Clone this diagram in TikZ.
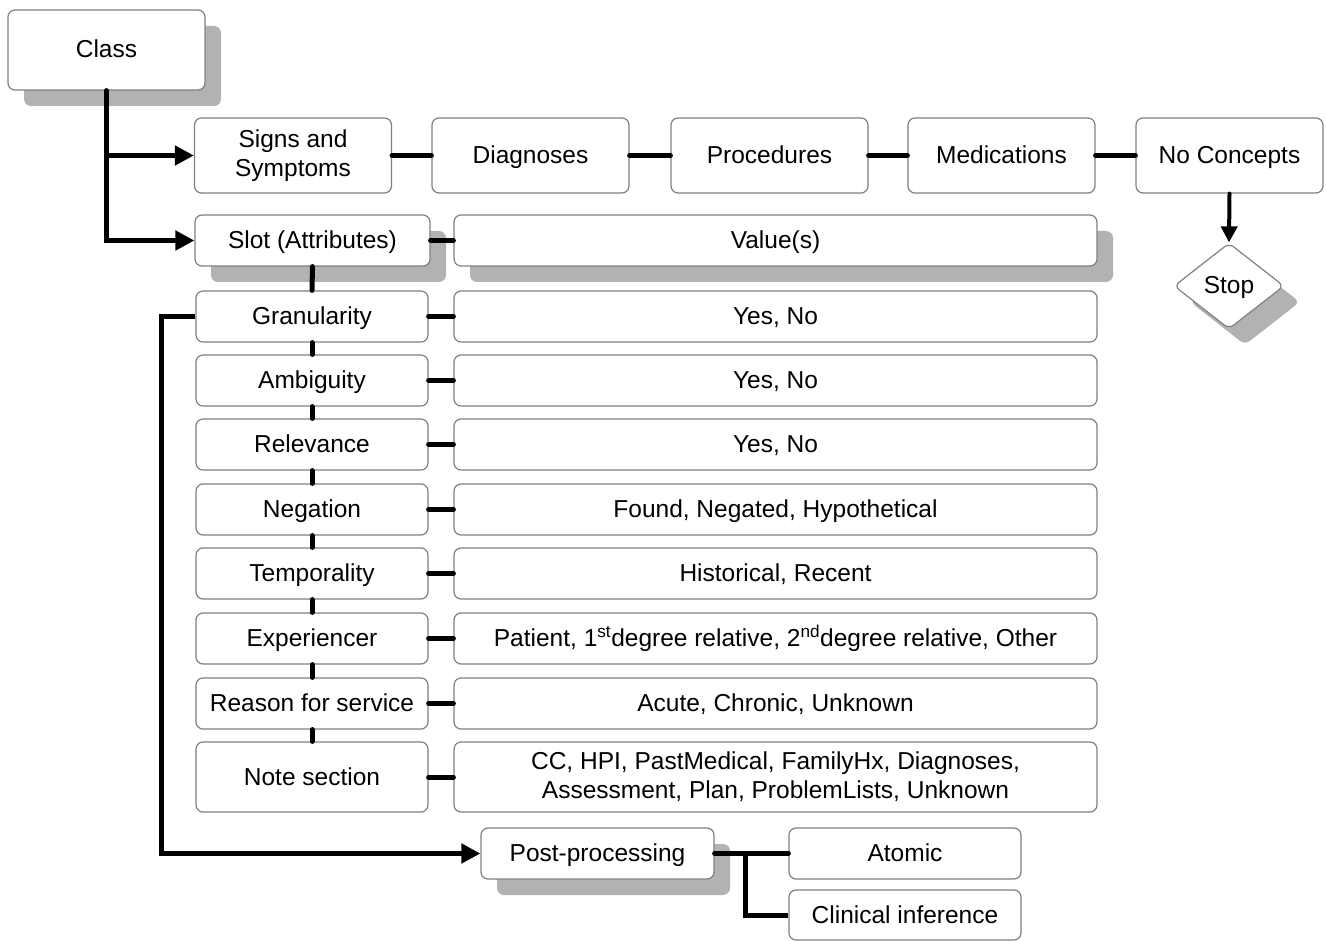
\documentclass[tikz,border=0pt]{standalone}
\usepackage{fontspec}
\setmainfont{Liberation Sans}
\usetikzlibrary{arrows.meta,shapes.geometric,shadows}
\definecolor{bordergray}{RGB}{128,128,128}
\definecolor{shadowgray}{RGB}{178,178,178}
\begin{document}
\begin{tikzpicture}[x=1pt,y=-1pt,
  box/.style={draw=bordergray, line width=1.2pt, rounded corners=7pt, fill=white,
    align=center, inner sep=2pt, font=\fontsize{24.5}{29}\selectfont},
  one/.style={text height=19.5pt, text depth=3.5pt},
  shad/.style={drop shadow={shadow xshift=16pt, shadow yshift=-16pt, fill=shadowgray, opacity=1}},
  conn/.style={line width=5pt, line cap=round, draw=black},
  arr/.style={conn, -{Triangle[length=19pt,width=19pt]}},
  attr/.style={box, one, minimum width=232pt, minimum height=51pt},
  val/.style={box, minimum width=643pt, minimum height=51pt},
]
\useasboundingbox (0,0) rectangle (1326,941);

% top
\node[box, one, shad, minimum width=197pt, minimum height=80pt] (class) at (106.5,50) {Class};
\node[box, minimum width=197pt, minimum height=75pt] (signs) at (293,155.5) {Signs and\\Symptoms};
\node[box, one, minimum width=197pt, minimum height=75pt] (diag) at (530.5,155.5) {Diagnoses};
\node[box, one, minimum width=197pt, minimum height=75pt] (proc) at (769.5,155.5) {Procedures};
\node[box, one, minimum width=187pt, minimum height=75pt] (med) at (1001.5,155.5) {Medications};
\node[box, one, minimum width=187pt, minimum height=75pt] (noc) at (1229.5,155.5) {No Concepts};
\node[box, one, shad, diamond, minimum width=110pt, minimum height=86pt, inner sep=0pt, rounded corners=6pt] (stop) at (1229,286) {Stop};

% slot and values
\node[box, one, shad, minimum width=235pt, minimum height=51pt] (slot) at (312.5,240.5) {Slot (Attributes)};
\node[val, one, shad] (vals) at (775.5,240.5) {Value(s)};

\node[attr] (gran) at (312,316.5) {Granularity};
\node[val, one] (vgran) at (775.5,316.5) {Yes, No};
\node[attr] (amb) at (312,380.5) {Ambiguity};
\node[val, one] (vamb) at (775.5,380.5) {Yes, No};
\node[attr] (rel) at (312,444.5) {Relevance};
\node[val, one] (vrel) at (775.5,444.5) {Yes, No};
\node[attr] (neg) at (312,509.5) {Negation};
\node[val, one] (vneg) at (775.5,509.5) {Found, Negated, Hypothetical};
\node[attr] (temp) at (312,573.5) {Temporality};
\node[val, one] (vtemp) at (775.5,573.5) {Historical, Recent};
\node[attr] (exp) at (312,638.5) {Experiencer};
\node[val, one] (vexp) at (775.5,638.5) {Patient, 1\textsuperscript{st}degree relative, 2\textsuperscript{nd}degree relative, Other};
\node[attr] (reas) at (312,703.5) {Reason for service};
\node[val, one] (vreas) at (775.5,703.5) {Acute, Chronic, Unknown};
\node[attr, minimum height=70pt] (note) at (312,777) {Note section};
\node[val, minimum height=70pt] (vnote) at (775.5,777) {CC, HPI, PastMedical, FamilyHx, Diagnoses,\\Assessment, Plan, ProblemLists, Unknown};

% post-processing
\node[box, one, shad, minimum width=233pt, minimum height=51pt] (post) at (597.5,853.5) {Post-processing};
\node[box, one, minimum width=232pt, minimum height=51pt] (atom) at (905,853.5) {Atomic};
\node[box, one, minimum width=232pt, minimum height=50pt] (clin) at (905,915) {Clinical inference};

\coordinate (loopx) at (161,0);
\coordinate (brx) at (745,0);

% connectors
\draw[arr] (class.south) |- (slot.west);
\draw[arr] (class.south |- signs.west) -- (signs.west);
\draw[conn] (signs.east) -- (diag.west);
\draw[conn] (diag.east) -- (proc.west);
\draw[conn] (proc.east) -- (med.west);
\draw[conn] (med.east) -- (noc.west);
\draw[conn, line width=4pt, -{Triangle[length=16pt,width=16pt]}] (noc.south) -- (stop.north);

\draw[conn] (slot.east) -- (vals.west);
\draw[conn] (slot.south) -- (gran.north);
\draw[conn] (gran.south) -- (amb.north);
\draw[conn] (amb.south) -- (rel.north);
\draw[conn] (rel.south) -- (neg.north);
\draw[conn] (neg.south) -- (temp.north);
\draw[conn] (temp.south) -- (exp.north);
\draw[conn] (exp.south) -- (reas.north);
\draw[conn] (reas.south) -- (note.north);

\draw[conn] (gran.east) -- (vgran.west);
\draw[conn] (amb.east) -- (vamb.west);
\draw[conn] (rel.east) -- (vrel.west);
\draw[conn] (neg.east) -- (vneg.west);
\draw[conn] (temp.east) -- (vtemp.west);
\draw[conn] (exp.east) -- (vexp.west);
\draw[conn] (reas.east) -- (vreas.west);
\draw[conn] (note.east) -- (vnote.west);

\draw[arr, line cap=butt] (gran.west) -- (gran.west -| loopx) |- (post.west);
\draw[conn] (post.east) -- (atom.west);
\draw[conn, line cap=butt] (post.east -| brx) |- (clin.west);
\end{tikzpicture}
\end{document}
